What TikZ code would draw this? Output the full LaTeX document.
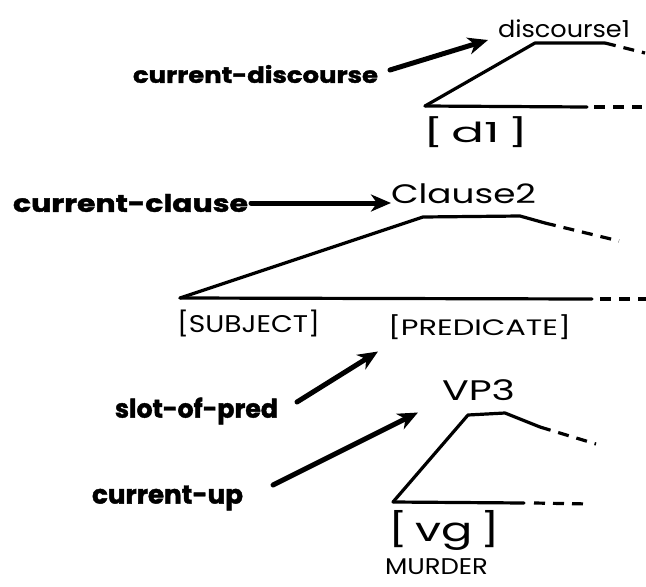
\documentclass[tikz,border=0pt]{standalone}
\usepackage{fontspec}
\setmainfont{Poppins}
\newfontfamily\heavy{Poppins}[BoldFeatures={FakeBold=1.6}]
\usetikzlibrary{arrows.meta,calc}

\tikzset{
  lbl/.style={inner sep=0pt, outer sep=0pt, anchor=west},
  pointer/.style={line width=5pt, line cap=round,
    -{Stealth[length=20pt, width=17pt, inset=6pt]}},
  branch/.style={line width=3.2pt, line join=round, line cap=round},
  cont/.style={line width=3.2pt, dash pattern=on 11pt off 8pt},
}
% text boxed to a given width and total height
\newcommand{\fitbox}[3]{\resizebox*{#1}{#2}{#3}}

\begin{document}
\begin{tikzpicture}[x=1pt, y=-1pt]
\useasboundingbox (0,0) rectangle (646,587);

% ---- discourse level ----
\node[lbl] (curdisc) at (133,74) {\fitbox{245pt}{18pt}{\heavy\bfseries current-discourse}};
\node[lbl] (disc1)   at (498,29) {\fitbox{132pt}{18pt}{discourse1}};
\node[lbl] (d1)      at (423,132) {\fitbox{105pt}{31pt}{[\,d1\,]}};

\coordinate (d1L) at (425,106);
\coordinate (d1T) at (535,43);
\coordinate (d1R) at (605,43);
\draw[branch] (d1L) -- (d1T) -- (d1R);
\draw[cont] (d1R) -- (645,53);
\draw[branch] (d1L) -- (587,107);
\draw[cont] (594,107) -- (642,107);

\draw[pointer] ([shift={(12,-4)}]curdisc.east) -- ([shift={(-10,2)}]disc1.south west);

% ---- clause level ----
\node[lbl] (curcl) at (13,203) {\fitbox{235pt}{18pt}{\heavy\bfseries current-clause}};
\node[lbl] (cl2)   at (391,194) {\fitbox{145pt}{20pt}{Clause2}};
\node[lbl] (subj)  at (177,323) {\fitbox{143pt}{27pt}{[SUBJECT]}};
\node[lbl] (pred)  at (388,327) {\fitbox{183pt}{25pt}{[PREDICATE]}};

\coordinate (clL) at (180,298);
\coordinate (clT) at (423,217);
\coordinate (clR) at (520,216);
\coordinate (clS) at (545,223);
\draw[branch] (clL) -- (clT) -- (clR) -- (clS);
\draw[cont] (clS) -- (619,241);
\draw[branch] (clL) -- (592,299);
\draw[cont] (600,299) -- (646,299);

\draw[pointer] ([xshift=3pt]curcl.east) -- (cl2.west |- curcl.east);

% ---- verb phrase level ----
\node[lbl] (slot)  at (115,411) {\fitbox{163pt}{27pt}{\heavy\bfseries slot-of-pred}};
\node[lbl] (curvp) at (92,498)  {\fitbox{151pt}{25pt}{\heavy\bfseries current-up}};
\node[lbl] (vp3)   at (442,390) {\fitbox{73pt}{21pt}{VP3}};
\node[lbl] (vg)    at (388,530) {\fitbox{112pt}{40pt}{[\,vg\,]}};
\node[lbl] (murder) at (385,567) {\fitbox{103pt}{16pt}{MURDER}};

\coordinate (vpL) at (393,502);
\coordinate (vpT) at (468,415);
\coordinate (vpR) at (505,413);
\coordinate (vpS) at (540,427);
\draw[branch] (vpL) -- (vpT) -- (vpR) -- (vpS);
\draw[cont] (vpS) -- (596,444);
\draw[branch] (vpL) -- (524,503);
\draw[cont] (534,503) -- (590,504);

\draw[pointer] ([shift={(19,-9)}]slot.east) -- ([shift={(-10,12)}]pred.south west);
\draw[pointer] ([shift={(30,-13)}]curvp.east) -- ([shift={(-24,12)}]vp3.south west);
\end{tikzpicture}
\end{document}
